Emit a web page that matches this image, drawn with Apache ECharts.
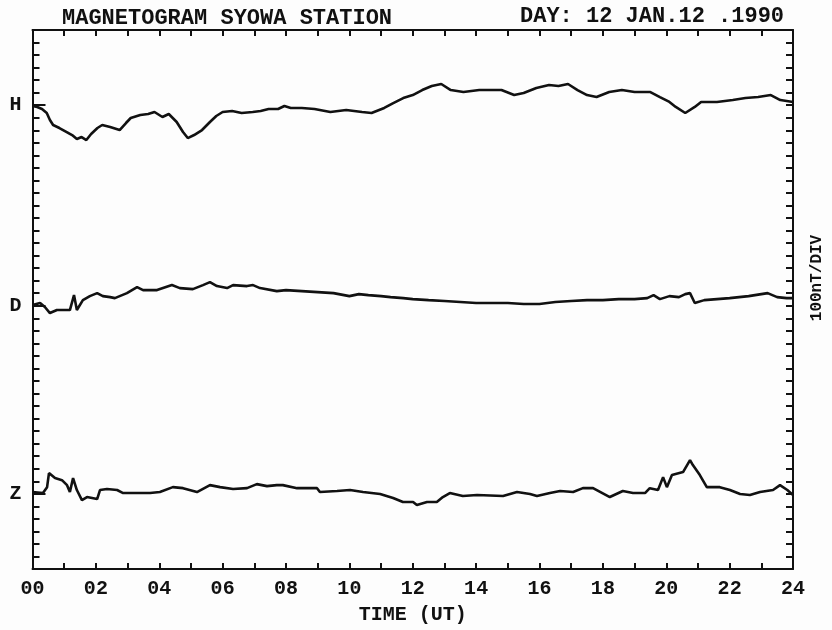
<!DOCTYPE html>
<html><head><meta charset="utf-8">
<script src="https://cdn.jsdelivr.net/npm/echarts@6/dist/echarts.min.js"></script>
<style>html,body{margin:0;padding:0;background:#fdfdfd}#c{width:832px;height:630px}</style>
</head><body><div id="c"></div>
<script>
// Deviations in nT from each component's baseline, time in hours UT
const hTrace = [[0,-6],[0.15,-14],[0.3,-30],[0.45,-62],[0.55,-118],[0.65,-158],[0.85,-182],[1.08,-214],[1.25,-238],[1.4,-270],[1.55,-254],[1.7,-278],[1.85,-230],[2.05,-182],[2.2,-158],[2.45,-174],[2.75,-198],[2.95,-142],[3.1,-102],[3.4,-78],[3.65,-70],[3.85,-54],[4.1,-94],[4.3,-70],[4.55,-134],[4.75,-214],[4.9,-262],[5.1,-238],[5.35,-198],[5.6,-134],[5.8,-86],[6,-54],[6.3,-46],[6.6,-62],[6.95,-54],[7.2,-46],[7.45,-30],[7.75,-30],[7.95,-6],[8.15,-22],[8.5,-22],[8.9,-30],[9.4,-54],[9.9,-38],[10.4,-54],[10.7,-62],[11.1,-22],[11.4,18],[11.7,57],[12,81],[12.3,121],[12.6,153],[12.9,169],[13.2,121],[13.6,105],[14.1,121],[14.8,121],[15.2,81],[15.5,97],[15.9,137],[16.3,161],[16.6,153],[16.9,169],[17.2,121],[17.5,81],[17.8,65],[18.2,105],[18.6,121],[19,105],[19.5,105],[19.8,65],[20.1,26],[20.3,-14],[20.6,-62],[20.9,-14],[21.1,26],[21.6,26],[22.1,41],[22.5,57],[22.9,65],[23.3,81],[23.6,41],[24,26]];
const dTrace = [[0,6],[0.24,22],[0.39,-10],[0.55,-58],[0.77,-34],[1.09,-34],[1.18,-34],[1.31,85],[1.4,-34],[1.59,45],[1.81,77],[2.04,101],[2.22,77],[2.45,69],[2.6,61],[2.98,101],[3.3,149],[3.49,125],[3.93,125],[4.4,165],[4.65,141],[5.06,133],[5.38,165],[5.6,189],[5.82,157],[6.14,141],[6.33,165],[6.77,157],[6.96,165],[7.18,141],[7.71,117],[8,125],[8.5,117],[9,109],[9.5,101],[10,77],[10.3,93],[10.6,85],[11,77],[11.3,69],[11.7,61],[12,53],[12.5,45],[13,38],[13.5,30],[14,22],[14.5,22],[15,22],[15.5,14],[16,14],[16.5,30],[17,38],[17.5,45],[18,45],[18.5,53],[19,53],[19.4,61],[19.6,85],[19.8,53],[20.1,77],[20.4,69],[20.6,93],[20.75,101],[20.9,22],[21.2,45],[21.6,53],[22,61],[22.6,77],[23.2,101],[23.5,69],[23.8,61],[24,61]];
const zTrace = [[0,14],[0.33,6],[0.46,53],[0.52,165],[0.71,125],[0.93,109],[1.09,69],[1.18,14],[1.28,125],[1.4,30],[1.56,-50],[1.72,-26],[2.04,-42],[2.13,30],[2.35,38],[2.67,30],[2.86,6],[3.17,6],[3.71,6],[4.02,14],[4.43,53],[4.75,45],[5.19,14],[5.6,69],[5.92,53],[6.33,38],[6.77,45],[7.08,77],[7.4,61],[7.71,69],[7.9,69],[8.35,45],[8.98,45],[9.07,14],[9.61,22],[10.02,30],[10.43,14],[10.97,-2],[11.38,-34],[11.69,-66],[12.01,-66],[12.13,-90],[12.45,-66],[12.76,-66],[12.95,-26],[13.17,6],[13.58,-18],[14.03,-10],[14.85,-18],[15.29,14],[15.7,-2],[15.92,-18],[16.33,6],[16.65,22],[17.06,14],[17.37,45],[17.69,45],[18.22,-26],[18.63,22],[18.95,6],[19.33,6],[19.48,45],[19.74,30],[19.9,133],[20.02,53],[20.18,149],[20.53,173],[20.75,269],[20.84,229],[21.06,149],[21.28,53],[21.69,53],[22.01,30],[22.33,-2],[22.64,-10],[22.96,14],[23.37,30],[23.59,69],[23.82,30],[24,-10]];
const components = ['H', 'D', 'Z'];
const baselines = [3700, 2100, 600];
const xTickLabels = ['00','02','04','06','08','10','12','14','16','18','20','22','24'];

const traces = [hTrace, dTrace, zTrace];
const FONT = 'Liberation Mono';
const INK = '#111';
const chart = echarts.init(document.getElementById('c'));
const yCommon = {
  type: 'value', min: 0, max: 4300, interval: 100,
  axisLine: {show: true, onZero: false, lineStyle: {color: INK, width: 2}},
  axisTick: {show: true, inside: true, length: 7, lineStyle: {color: INK, width: 2}},
  axisLabel: {show: false}, splitLine: {show: false}
};
const xCommon = {
  type: 'value', min: 0, max: 24, interval: 1,
  axisLine: {show: true, onZero: false, lineStyle: {color: INK, width: 2}},
  axisTick: {show: true, inside: true, length: 6, lineStyle: {color: INK, width: 2}},
  splitLine: {show: false}
};
chart.setOption({
  backgroundColor: '#fdfdfd',
  animation: false,
  grid: {left: 32.5, right: 39, top: 30, bottom: 61, containLabel: false, outerBoundsMode: 'none'},
  xAxis: [
    Object.assign({}, xCommon, {
      position: 'bottom',
      name: 'TIME (UT)', nameLocation: 'middle', nameGap: 36,
      nameTextStyle: {fontFamily: FONT, fontSize: 20, fontWeight: 'bold', color: INK},
      axisLabel: {margin: 10, fontFamily: FONT, fontSize: 20, fontWeight: 'bold', color: INK,
        formatter: v => (v % 2 === 0 ? xTickLabels[v / 2] : '')}
    }),
    Object.assign({}, xCommon, {position: 'top', axisLabel: {show: false}})
  ],
  yAxis: [
    Object.assign({}, yCommon, {position: 'left'}),
    Object.assign({}, yCommon, {position: 'right'}),
    {
      type: 'value', min: 0, max: 4300, position: 'left',
      axisLine: {show: false, onZero: false}, splitLine: {show: false},
      axisTick: {show: true, inside: true, length: 13, customValues: baselines, lineStyle: {color: INK, width: 2}},
      axisLabel: {show: true, margin: 11, customValues: baselines, fontFamily: FONT, fontSize: 20, fontWeight: 'bold', color: INK,
        formatter: v => components[baselines.indexOf(v)] || ''}
    }
  ],
  graphic: [
    {type: 'text', left: 62, top: 7, style: {text: 'MAGNETOGRAM SYOWA STATION', font: 'bold 22px "Liberation Mono"', fill: INK}},
    {type: 'text', left: 520, top: 5, style: {text: 'DAY: 12 JAN.12 .1990', font: 'bold 22px "Liberation Mono"', fill: INK}},
    {type: 'text', x: 817, y: 278, rotation: Math.PI / 2,
      style: {text: '100nT/DIV', font: 'bold 16px "Liberation Mono"', fill: INK, align: 'center', verticalAlign: 'middle'}}
  ],
  series: traces.map((tr, i) => ({
    type: 'line', name: components[i], showSymbol: false, xAxisIndex: 0, yAxisIndex: 0,
    lineStyle: {color: INK, width: 2.6}, z: 3,
    data: tr.map(p => [p[0], baselines[i] + p[1]])
  }))
});
</script></body></html>
